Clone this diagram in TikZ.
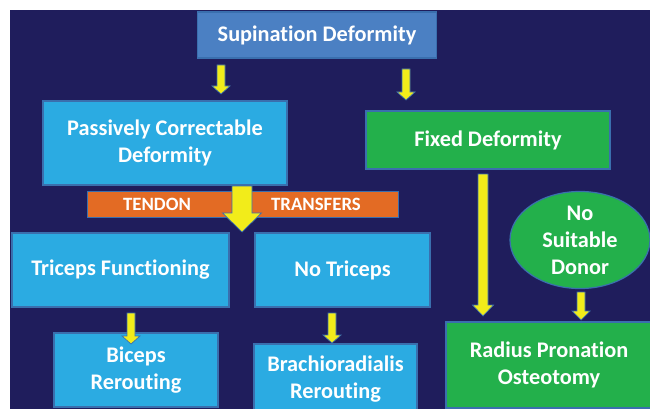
\documentclass[tikz,border=0pt]{standalone}
\usepackage{fontspec}
\setmainfont[Ligatures=NoCommon]{Carlito}
\usetikzlibrary{shapes.geometric,calc}
\definecolor{bgnavy}{HTML}{1F1D5C}
\definecolor{topblue}{HTML}{4B80C3}
\definecolor{lightblue}{HTML}{2BABE2}
\definecolor{boxgreen}{HTML}{23B04B}
\definecolor{barorange}{HTML}{E36B24}
\definecolor{arrowyellow}{HTML}{F2EC1A}
\definecolor{edgeblue}{HTML}{3A6FAE}
\tikzset{
  box/.style={draw=edgeblue, line width=1.2pt, inner sep=0pt, align=center,
    text=white, font=\bfseries\fontsize{22.3}{27}\selectfont},
  bluebox/.style={box, fill=lightblue},
  greenbox/.style={box, fill=boxgreen},
  bartext/.style={text=white, inner sep=0pt, font=\bfseries\fontsize{18.8}{22}\selectfont},
  yarrow/.style={fill=arrowyellow, draw=edgeblue, line width=0.7pt}
}
\newcommand\fatarrow[5]{%
  \path[yarrow] let \p1=(#1), \p2=(#2) in
    (\x1-#3,\y1) -- (\x1+#3,\y1) -- (\x1+#3,\y2+#5) -- (\x1+#4,\y2+#5) --
    (\x1,\y2) -- (\x1-#4,\y2+#5) -- (\x1-#3,\y2+#5) -- cycle;}
\begin{document}
\begin{tikzpicture}[x=1pt,y=-1pt]
\useasboundingbox (0,0) rectangle (650,409);
\clip (0,0) rectangle (650,409);
\fill[white] (0,0) rectangle (650,409);
\fill[bgnavy] (10,10) rectangle (652,411);

\node[box, fill=topblue, minimum width=239pt, minimum height=46pt] (sup) at (317,35) {Supination Deformity};
\node[bluebox, minimum width=244pt, minimum height=84pt] (pass) at (165,143) {Passively Correctable\\Deformity};
\node[greenbox, minimum width=244pt, minimum height=58pt] (fixed) at (488,140) {Fixed Deformity};

\node[draw=edgeblue, line width=1pt, fill=barorange, minimum width=311pt, minimum height=26pt, inner sep=0pt] (bar) at (242.5,204) {};
\node[bartext] (tendon) at (157,204) {TENDON};
\node[bartext] (transfers) at (316,204) {TRANSFERS};

\node[bluebox, minimum width=217pt, minimum height=74pt] (tric) at (120.5,270) {Triceps Functioning};
\node[bluebox, minimum width=175pt, minimum height=74pt] (notri) at (342.5,270) {No Triceps};
\node[bluebox, minimum width=164pt, minimum height=74pt] (biceps) at (136,370) {Biceps\\Rerouting};
\node[bluebox, minimum width=163pt, minimum height=70pt] (brach) at (335.5,379) {Brachioradialis\\Rerouting};
\node[greenbox, minimum width=206pt, minimum height=86pt] (radius) at (549,365) {Radius Pronation\\Osteotomy};
\node[greenbox, ellipse, minimum width=140pt, minimum height=94pt] (donor) at (580,240) {No\\Suitable\\Donor};

\coordinate (a1s) at (221,65);  \coordinate (a1e) at (221,94);
\coordinate (a2s) at (406,69);  \coordinate (a2e) at (406,100);
\coordinate (a3s) at (242,186); \coordinate (a3e) at (242,232);
\coordinate (a4s) at (131,313); \coordinate (a4e) at (131,344);
\coordinate (a5s) at (332,313); \coordinate (a5e) at (332,343);
\coordinate (a6s) at (483,174); \coordinate (a6e) at (483,316);
\coordinate (a7s) at (581,292); \coordinate (a7e) at (581,320);

\fatarrow{a1s}{a1e}{4pt}{9pt}{8pt}
\fatarrow{a2s}{a2e}{4pt}{9pt}{8pt}
\fatarrow{a3s}{a3e}{10pt}{19.5pt}{19pt}
\fatarrow{a4s}{a4e}{4pt}{9pt}{8pt}
\fatarrow{a5s}{a5e}{4pt}{9pt}{8pt}
\fatarrow{a6s}{a6e}{5pt}{10.5pt}{11pt}
\fatarrow{a7s}{a7e}{4pt}{9pt}{9pt}
\end{tikzpicture}
\end{document}
